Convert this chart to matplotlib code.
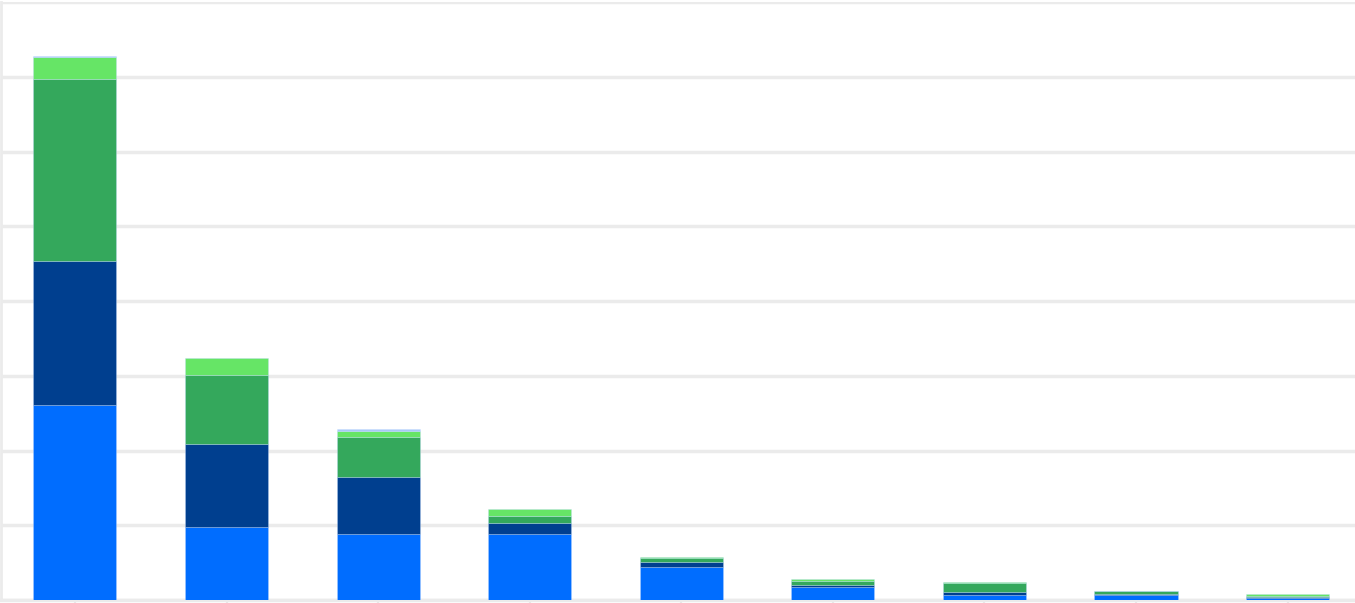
import matplotlib
matplotlib.use("Agg")
import matplotlib.pyplot as plt
import numpy as np

categories = ["A", "B", "C", "D", "E", "F", "G", "H", "I"]
series1 = [2.61, 0.977, 0.883, 0.883, 0.437, 0.170, 0.064, 0.068, 0.031]
series2 = [1.925, 1.11, 0.762, 0.147, 0.065, 0.035, 0.047, 0.006, 0.006]
series3 = [2.435, 0.923, 0.535, 0.094, 0.056, 0.053, 0.121, 0.044, 0.023]
series4 = [0.294, 0.227, 0.080, 0.093, 0.017, 0.019, 0.005, 0.005, 0.022]
series5 = [0.016, 0.0, 0.027, 0.0, 0.0, 0.0, 0.0, 0.0, 0.0]
colors = ["#006dff", "#003f8f", "#34a85c", "#66e566", "#a8c8f8"]

W, H = 1355, 603
fig = plt.figure(figsize=(W / 100, H / 100), dpi=100)
ax = fig.add_axes([1 / W, 3 / H, 1 - 1 / W, 598 / H])

x = np.arange(len(categories))
bottom = np.zeros(len(categories))
for vals, c in zip([series1, series2, series3, series4, series5], colors):
    v = np.array(vals)
    mask = v > 0
    ax.bar(x[mask], v[mask], width=0.548, bottom=bottom[mask], color=c,
           edgecolor=(0.75, 0.85, 1.0, 0.45), linewidth=0.5, zorder=3)
    bottom += v

ax.set_ylim(0, 8)
ax.set_xlim(-0.488, 8.445)
ax.set_yticks(np.arange(0, 9, 1))
ax.yaxis.grid(True, color="#ebebeb", linewidth=2.5, zorder=0)
ax.set_axisbelow(True)
ax.set_yticklabels([])
ax.tick_params(axis="y", length=0)
ax.set_xticks(x)
ax.set_xticklabels([])
ax.tick_params(axis="x", length=3, width=1.5, color="#e6e6e6")
for s in ["top", "right"]:
    ax.spines[s].set_visible(False)
ax.spines["left"].set_color("#ebebeb")
ax.spines["left"].set_linewidth(2)
ax.spines["bottom"].set_color("#ebebeb")
ax.spines["bottom"].set_linewidth(2.5)

fig.savefig("out.png", dpi=100)
